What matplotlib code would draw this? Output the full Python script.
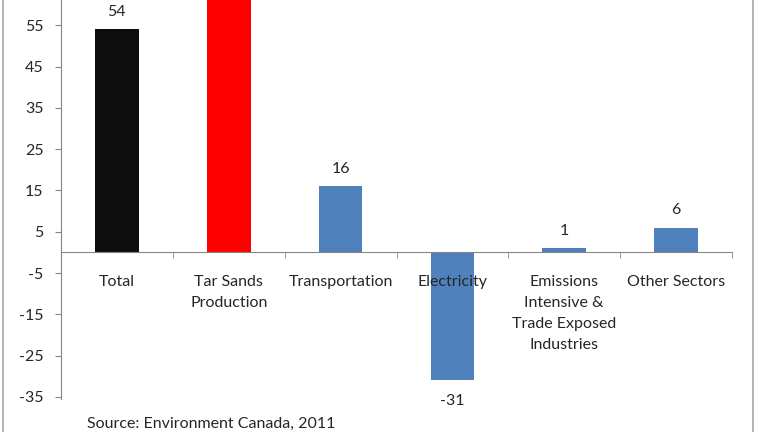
import numpy as np
import matplotlib
matplotlib.use("Agg")
import matplotlib.pyplot as plt
from matplotlib.lines import Line2D

# Projected change in emissions by sector (Mt)
categories = ["Total", "Tar Sands\nProduction", "Transportation", "Electricity",
              "Emissions\nIntensive &\nTrade Exposed\nIndustries", "Other Sectors"]
values = [54, 62, 16, -31, 1, 6]
colors = ["#0d0d0d", "#ff0000", "#4f81bd", "#4f81bd", "#4f81bd", "#4f81bd"]
yticks = [55, 45, 35, 25, 15, 5, -5, -15, -25, -35]
source = "Source: Environment Canada, 2011"

plt.rcParams['font.family'] = ['Lato', 'DejaVu Sans']
text_color = "#262626"
axis_color = "#868686"
fs = 11.5

fig = plt.figure(figsize=(7.68, 4.32), dpi=100)
ax = fig.add_axes([61 / 768, 1 - 397 / 432, (732 - 61) / 768, 397 / 432])

x = np.arange(len(categories))
ax.bar(x, values, width=0.39, color=colors, zorder=1)

# value labels
for xi, v in zip(x, values):
    off = 12.5 if v >= 0 else -14.5
    ax.annotate(str(v), (xi, v), xytext=(0, off), textcoords="offset points",
                ha="center", va="center", fontsize=fs, color=text_color)

ax.set_xlim(-0.5, len(categories) - 0.5)
ax.set_ylim(-35, 61.1)

# spines
for s in ["top", "right"]:
    ax.spines[s].set_visible(False)
ax.spines["bottom"].set_position(("data", 0))
ax.spines["bottom"].set_color(axis_color)
ax.spines["left"].set_color(axis_color)
ax.spines["left"].set_bounds(-35.5, 61.1)

# x ticks: labels at centres, tick marks at the boundaries
ax.set_xticks(x)
ax.set_xticklabels(categories, fontsize=fs, color=text_color, linespacing=1.65, va="top")
ax.tick_params(axis="x", which="major", length=0, pad=16)
ax.set_xticks(np.arange(len(categories) + 1) - 0.5, minor=True)
ax.tick_params(axis="x", which="minor", length=4, direction="out", color=axis_color)

ax.set_yticks(yticks)
ax.set_yticklabels([str(t) for t in yticks])
ax.tick_params(axis="y", length=4.5, direction="out", color=axis_color,
               labelsize=fs, labelcolor=text_color, pad=8)

# outer chart frame
fig.add_artist(Line2D([3 / 768, 3 / 768], [0, 1], color="#a6a6a6", lw=1.2))
fig.add_artist(Line2D([753 / 768, 753 / 768], [0, 1], color="#a6a6a6", lw=1.2))

fig.text(87 / 768, 1 - 417 / 432, source, ha="left", va="top", fontsize=fs, color=text_color)

fig.savefig("out.png", dpi=100)
